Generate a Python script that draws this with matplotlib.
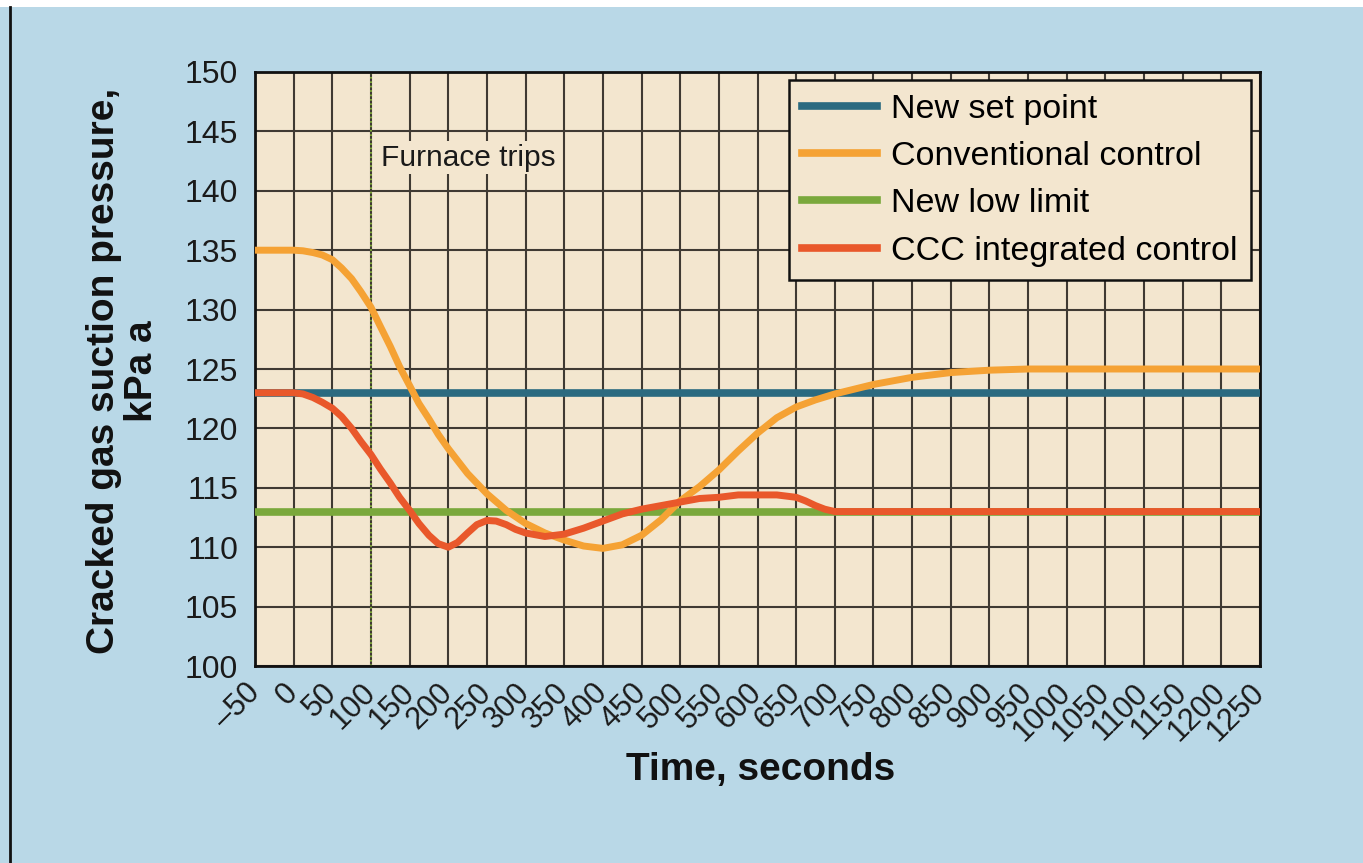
import numpy as np
import matplotlib
matplotlib.use('Agg')
import matplotlib.pyplot as plt
from matplotlib.lines import Line2D
from matplotlib.patches import Rectangle

plt.rcParams['font.family'] = ['Liberation Sans', 'DejaVu Sans']

# data (time in s, pressure in kPa a)
t_full = [-50, 1250]
set_point = [123, 123]
low_limit = [113, 113]

t_conv = [-50, -25, 0, 12, 25, 37, 50, 62, 75, 87, 100, 112, 125, 137, 150, 162,
          175, 187, 200, 225, 250, 275, 300, 325, 350, 375, 400, 425, 450, 475,
          500, 525, 550, 575, 600, 625, 650, 675, 700, 725, 750, 775, 800, 825,
          850, 875, 900, 950, 1000, 1250]
conv = [135.0, 135.0, 135.0, 134.95, 134.8, 134.6, 134.2, 133.5, 132.6, 131.5,
        130.2, 128.6, 126.9, 125.2, 123.6, 122.1, 120.8, 119.5, 118.3, 116.2,
        114.5, 113.1, 112.0, 111.2, 110.6, 110.1, 109.9, 110.2, 111.0, 112.3,
        113.9, 115.1, 116.5, 118.1, 119.6, 120.9, 121.8, 122.4, 122.9, 123.3,
        123.7, 124.0, 124.3, 124.5, 124.7, 124.8, 124.9, 125.0, 125.0, 125.0]

t_ccc = [-50, 0, 12, 25, 37, 50, 62, 75, 87, 100, 112, 125, 137, 150, 162, 175,
         187, 200, 212, 225, 237, 250, 262, 275, 287, 300, 325, 350, 375, 400,
         425, 450, 475, 500, 525, 550, 575, 600, 625, 650, 662, 675, 687, 700, 1250]
ccc = [123.0, 123.0, 122.9, 122.6, 122.2, 121.7, 121.0, 120.0, 118.9, 117.8,
       116.6, 115.4, 114.2, 113.1, 112.0, 111.0, 110.3, 110.0, 110.4, 111.2,
       111.9, 112.25, 112.2, 111.9, 111.5, 111.2, 110.9, 111.1, 111.6, 112.2,
       112.8, 113.2, 113.5, 113.8, 114.1, 114.2, 114.4, 114.4, 114.4, 114.2,
       113.9, 113.5, 113.2, 113.0, 113.0]

trip_time = 100
xticks = list(range(-50, 1251, 50))
yticks = list(range(100, 151, 5))

c_set = '#2b6a80'
c_conv = '#f5a234'
c_low = '#7aa83c'
c_ccc = '#e9582b'
bg_fig = '#b9d8e7'
bg_ax = '#f3e6cf'

fig = plt.figure(figsize=(13.63, 8.63), dpi=100)
fig.patch.set_facecolor(bg_fig)
ax = fig.add_axes([255/1363, 1-666/863, 1005/1363, 594/863])
ax.set_facecolor(bg_ax)

ax.plot(t_full, set_point, color=c_set, lw=5.5, solid_capstyle='butt', zorder=3)
ax.plot(t_full, low_limit, color=c_low, lw=5.5, solid_capstyle='butt', zorder=3)
ax.plot(t_conv, conv, color=c_conv, lw=5, solid_capstyle='butt', solid_joinstyle='round', zorder=4)
ax.plot(t_ccc, ccc, color=c_ccc, lw=5, solid_capstyle='butt', solid_joinstyle='round', zorder=5)

ax.axvline(trip_time, color='#8cbf3a', lw=1.2, ls=':', zorder=2)
ax.text(113, 142.8, 'Furnace trips', fontsize=21.5, va='center', ha='left', color='#1a1a1a',
        bbox=dict(facecolor=bg_ax, edgecolor='none', pad=2), zorder=3)

ax.set_xlim(-50, 1250)
ax.set_ylim(100, 150)
ax.set_xticks(xticks)
ax.set_yticks(yticks)
ax.set_xticklabels([str(v).replace('-', '\u2013') for v in xticks], rotation=45, ha='right',
                   va='center', rotation_mode='anchor', fontsize=22, color='#1a1a1a')
ax.set_yticklabels([str(v) for v in yticks], fontsize=23, color='#1a1a1a')
ax.tick_params(axis='both', length=0)
ax.tick_params(axis='y', pad=12)
ax.tick_params(axis='x', pad=16)
ax.grid(True, color='#3f3a33', lw=1.5, zorder=1)
ax.set_axisbelow(True)
for s in ax.spines.values():
    s.set_linewidth(2)
    s.set_color('#111111')

handles = [Line2D([], [], color=c_set, lw=5.5),
           Line2D([], [], color=c_conv, lw=5.5),
           Line2D([], [], color=c_low, lw=5.5),
           Line2D([], [], color=c_ccc, lw=5.5)]
labels = ['New set point', 'Conventional control', 'New low limit', 'CCC integrated control']
leg = ax.legend(handles, labels, loc='upper right', bbox_to_anchor=(0.991, 0.9865), fontsize=24.5,
                frameon=True, fancybox=False, edgecolor='#111111', facecolor=bg_ax, framealpha=1,
                handlelength=2.2, handletextpad=0.4, labelspacing=0.48, borderpad=0.4,
                borderaxespad=0)
leg.get_frame().set_linewidth(1.8)
leg.set_zorder(6)

fig.text(123/1363, 1-371/863, 'Cracked gas suction pressure,\nkPa a', rotation=90,
         ha='center', va='center', multialignment='center', fontsize=28, fontweight='bold',
         color='#111111', linespacing=1.05)
fig.text(761/1363, 1-770/863, 'Time, seconds', ha='center', va='center', fontsize=28,
         fontweight='bold', color='#111111')

# white top strip and black left rule of the page
fig.patches.append(Rectangle((0, 1-7/863), 1, 7/863, transform=fig.transFigure,
                             facecolor='white', edgecolor='none'))
fig.lines.append(Line2D([10/1363, 10/1363], [0, 1-7/863], transform=fig.transFigure,
                        color='#111111', lw=2))

fig.savefig('out.png', dpi=100, facecolor=fig.get_facecolor())
